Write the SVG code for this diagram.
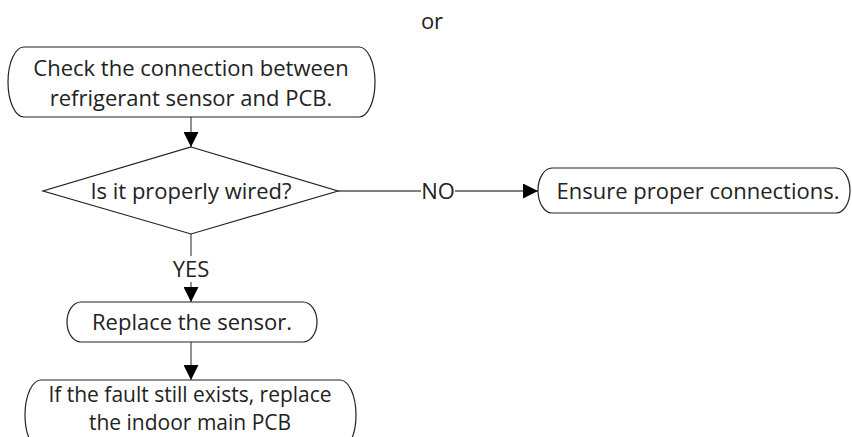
<svg xmlns="http://www.w3.org/2000/svg" width="852" height="437" viewBox="0 0 852 437">
<style>
text{font-family:"Open Sans","Noto Sans",sans-serif;font-size:22px;fill:#222;text-anchor:middle}
.s{font-size:21px}
.n{fill:#fff;stroke:#222;stroke-width:1.2}
.c{stroke:#555;stroke-width:1.3;fill:none}
</style>
<defs>
<marker id="ah" viewBox="0 0 10 10" refX="10" refY="5" markerWidth="15" markerHeight="15" markerUnits="userSpaceOnUse" orient="auto">
<path d="M0,0 L10,5 L0,10 Z" fill="#000"/>
</marker>
</defs>
<rect width="852" height="437" fill="#fff"/>
<text x="432" y="29">or</text>
<g id="connectors">
<line class="c" x1="191" y1="117" x2="191" y2="147" marker-end="url(#ah)"/>
<line class="c" x1="191" y1="234" x2="191" y2="256"/>
<text x="191" y="277">YES</text>
<line class="c" x1="191" y1="282" x2="191" y2="302" marker-end="url(#ah)"/>
<line class="c" x1="191" y1="342" x2="191" y2="380" marker-end="url(#ah)"/>
<line class="c" x1="338" y1="191" x2="421" y2="191"/>
<text x="438" y="199">NO</text>
<line class="c" x1="455" y1="191" x2="538" y2="191" marker-end="url(#ah)"/>
</g>
<g id="n1">
<rect class="n" x="8" y="47" width="367" height="70" rx="16" ry="35"/>
<text x="191" y="76">Check the connection between</text>
<text x="191" y="106">refrigerant sensor and PCB.</text>
</g>
<g id="n2">
<polygon class="n" points="191,147 338,191 191,234 43,191"/>
<text x="191" y="199">Is it properly wired?</text>
</g>
<g id="n3">
<rect class="n" x="538" y="168" width="312" height="45" rx="14" ry="22.5"/>
<text x="698" y="199">Ensure proper connections.</text>
</g>
<g id="n4">
<rect class="n" x="67" y="302" width="250" height="40" rx="14" ry="20"/>
<text x="192" y="330">Replace the sensor.</text>
</g>
<g id="n5">
<rect class="n" x="25" y="380" width="331" height="70" rx="16" ry="35"/>
<text class="s" x="190" y="402">If the fault still exists, replace</text>
<text class="s" x="190" y="430">the indoor main PCB</text>
</g>
</svg>
